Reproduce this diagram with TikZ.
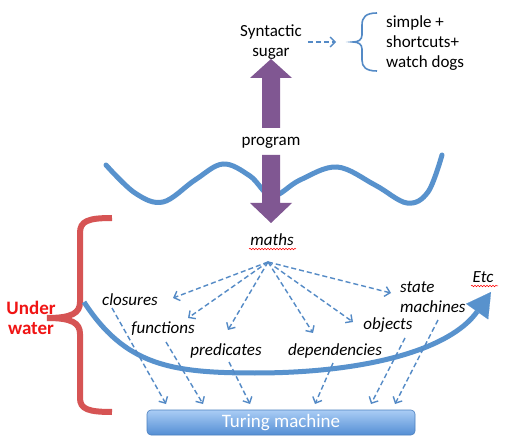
\documentclass[tikz,border=0pt]{standalone}
\usepackage{fontspec}
\setmainfont{Carlito}
\usetikzlibrary{arrows.meta,decorations.pathmorphing}
\definecolor{wblue}{RGB}{88,146,205}
\definecolor{dblue}{RGB}{84,138,198}
\definecolor{purp}{RGB}{128,87,146}
\definecolor{bred}{RGB}{214,84,84}
\definecolor{tred}{RGB}{240,20,20}
\definecolor{tmtop}{RGB}{170,205,245}
\definecolor{tmbot}{RGB}{84,142,212}
\begin{document}
\begin{tikzpicture}[x=1pt,y=-1pt,
  lbl/.style={font=\fontsize{17}{20}\selectfont\itshape, inner sep=0pt, align=left},
  plain/.style={font=\fontsize{17}{20}\selectfont, inner sep=0pt, align=center},
  dasharrow/.style={draw=dblue, line width=1.4pt, dash pattern=on 5pt off 3pt, -{Straight Barb[length=5pt,width=10pt]}},
  wave/.style={wblue, line width=5pt, line cap=round},
  bigpurple/.style={fill=purp},
  spell/.style={red, line width=0.5pt, decorate, decoration={snake, amplitude=0.8pt, segment length=3pt}}]
\useasboundingbox (0,0) rectangle (506,446);
\fill[white] (0,0) rectangle (506,446);

% top texts
\node[plain] (sugar) at (271,42) {Syntactic\\sugar};
\node[plain, anchor=west, align=left] (simple) at (386,43) {simple +\\shortcuts+\\watch dogs};
\coordinate (bracetip) at (336,42);
\draw[dasharrow] (sugar.east) ++(6,0) -- (bracetip);
\draw[dblue, line width=1.6pt] (377,13) .. controls (366,13) and (362,17) .. (362,25) -- (362,35)
   .. controls (362,40) and (358,42) .. (353,42) .. controls (358,42) and (362,44) .. (362,49)
   -- (362,60) .. controls (362,67) and (366,71) .. (377,71);

\node[plain] (program) at (271,143) {program};

% wave
\draw[wave] plot[smooth, tension=0.6] coordinates {(106,165) (135,193) (163,202) (195,180) (223,164) (250,176) (272,196) (300,180) (337,167) (375,185) (407,203) (428,192) (442,155)};

% purple arrows
\fill[bigpurple] (262,128) -- (262,78) -- (250,78) -- (271,59) -- (292,78) -- (280,78) -- (280,128) -- cycle;
\fill[bigpurple] (262,155) -- (262,203) -- (250,203) -- (271,223) -- (292,203) -- (280,203) -- (280,155) -- cycle;

% maths
\node[lbl] (maths) at (272,240) {maths};
\draw[spell] (249,249) -- (296,249);
\coordinate (hub) at (268,262);

% labels
\node[lbl] (closures) at (130,300) {closures};
\node[lbl] (functions) at (163,329) {functions};
\node[lbl] (predicates) at (226,351) {predicates};
\node[lbl] (dependencies) at (335,351) {dependencies};
\node[lbl] (objects) at (388,325) {objects};
\node[lbl, anchor=west] (state) at (400,297) {state\\machines};
\node[lbl] (etc) at (483,277) {Etc};
\draw[spell] (471,286) -- (498,286);

% under water brace
\draw[bred, line width=6pt] (112,218) .. controls (88,218) and (80,221) .. (80,233) -- (80,302)
  .. controls (80,313) and (72,318) .. (47,318) .. controls (72,318) and (80,323) .. (80,334)
  -- (80,398) .. controls (80,409) and (88,412) .. (112,412);
\node[plain, font=\fontsize{19}{20}\selectfont\bfseries, text=tred] (under) at (31,318) {Under\\water};

% big curve arrow
\draw[wblue, line width=5pt, -{Triangle[length=24pt 0 0,width=27pt 0 0,line width=0.1pt]}]
  (84,302) .. controls (125,365) and (170,373) .. (255,373) .. controls (365,373) and (450,350) .. (491,292);

% dashed arrows from maths
\coordinate (e1) at (173,298);
\coordinate (e2) at (188,318);
\coordinate (e3) at (228,330);
\coordinate (e4) at (313,333);
\coordinate (e5) at (353,322);
\coordinate (e6) at (391,293);
\foreach \e in {e1,e2,e3,e4,e5,e6} \draw[dasharrow] (hub) -- (\e);

% turing machine
\node[draw=tmbot!90!black, line width=0.6pt, rounded corners=4pt, top color=tmtop, bottom color=tmbot,
      minimum width=268pt, minimum height=25pt, inner sep=0pt,
      font=\fontsize{19}{20}\selectfont, text=white] (tm) at (281,422.5) {Turing machine};

% dashed arrows down
\coordinate (s1) at (112,308); \coordinate (t1) at (166,404);
\coordinate (s2) at (166,342); \coordinate (t2) at (203,404);
\coordinate (s3) at (229,362); \coordinate (t3) at (250,404);
\coordinate (s4) at (333,363); \coordinate (t4) at (315,404);
\coordinate (s5) at (405,338); \coordinate (t5) at (371,404);
\coordinate (s6) at (438,320); \coordinate (t6) at (395,404);
\foreach \i in {1,...,6} \draw[dasharrow] (s\i) -- (t\i);
\end{tikzpicture}
\end{document}
